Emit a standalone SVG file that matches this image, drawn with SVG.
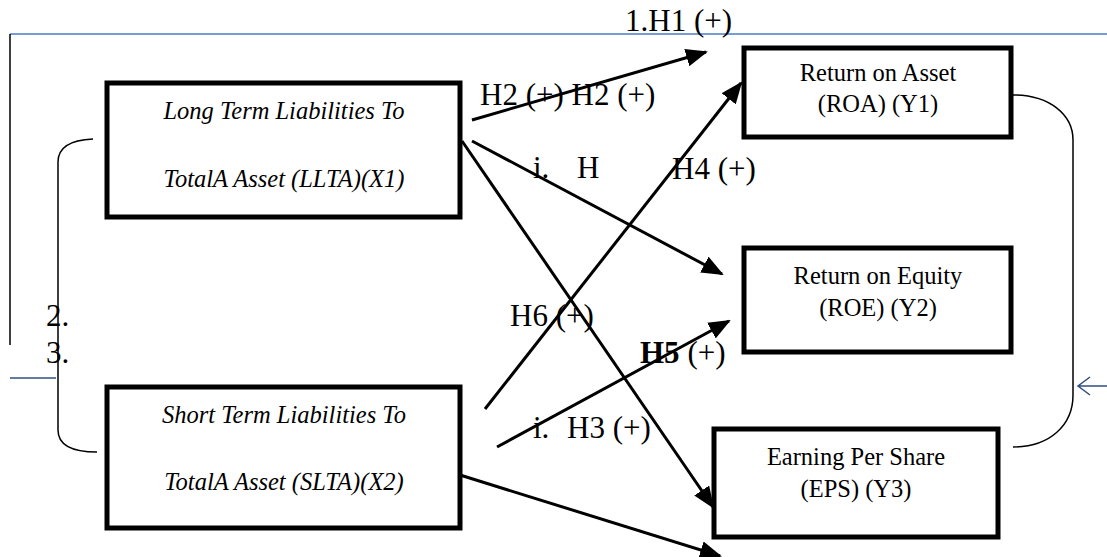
<svg xmlns="http://www.w3.org/2000/svg" width="1107" height="557" viewBox="0 0 1107 557">
<style>
.box{fill:#fff;stroke:#000;stroke-width:5}
.bt{font-family:"Liberation Serif","Times New Roman","DejaVu Serif",serif;font-style:italic;font-size:24.5px;text-anchor:middle}
.yt{font-family:"Liberation Serif","Times New Roman","DejaVu Serif",serif;font-size:24.5px;text-anchor:middle}
.lb{font-family:"Liberation Serif","Times New Roman","DejaVu Serif",serif;font-size:31px}
.ln{stroke:#000;stroke-width:3;fill:none}
.thin{stroke:#000;stroke-width:1.5;fill:none}
.blue{stroke:#4a7cc9;stroke-width:1.5;fill:none}
</style>
<defs>
<marker id="ah2" markerWidth="22" markerHeight="18" refX="20" refY="9" orient="auto" markerUnits="userSpaceOnUse">
<path d="M0,0 L22,9 L0,18 z" fill="#000"/>
</marker>
</defs>
<g id="frame">
<line class="blue" x1="10" y1="34" x2="1107" y2="34"/>
<line class="thin" x1="10" y1="34" x2="10" y2="345"/>
<line x1="10" y1="378" x2="56" y2="378" stroke="#2f4f7f" stroke-width="1.5"/>
<path class="thin" d="M93,139 C70,140 58,148 58,162 L58,430 C58,444 70,452 97,452"/>
<path class="thin" d="M1013,95 C1050,95 1073,115 1073,140 L1073,395 C1073,425 1050,447 1013,447"/>
<path d="M1107,386 L1078,386 M1090,377 L1078,386 L1090,395" stroke="#2f4f7f" stroke-width="1.5" fill="none"/>
</g>
<g id="connectors">
<line class="ln" x1="472" y1="120" x2="706" y2="52" marker-end="url(#ah2)"/>
<line class="ln" x1="472" y1="141" x2="722" y2="274" marker-end="url(#ah2)"/>
<line class="ln" x1="462" y1="141" x2="713" y2="507" marker-end="url(#ah2)"/>
<line class="ln" x1="485" y1="409" x2="741" y2="83" marker-end="url(#ah2)"/>
<line class="ln" x1="497" y1="447" x2="729" y2="321" marker-end="url(#ah2)"/>
<line class="ln" x1="460" y1="475" x2="720" y2="556" marker-end="url(#ah2)"/>
</g>
<g id="llta">
<rect class="box" x="107" y="83" width="353" height="134"/>
<text class="bt" x="284" y="119">Long Term Liabilities To</text>
<text class="bt" x="284" y="187">TotalA Asset (LLTA)(X1)</text>
</g>
<g id="slta">
<rect class="box" x="107" y="387" width="353" height="141"/>
<text class="bt" x="284" y="423">Short Term Liabilities To</text>
<text class="bt" x="284" y="490">TotalA Asset (SLTA)(X2)</text>
</g>
<g id="roa">
<rect class="box" x="744" y="48" width="267" height="89"/>
<text class="yt" x="878" y="81">Return on Asset</text>
<text class="yt" x="878" y="112">(ROA) (Y1)</text>
</g>
<g id="roe">
<rect class="box" x="744" y="248" width="267" height="104"/>
<text class="yt" x="878" y="284">Return on Equity</text>
<text class="yt" x="878" y="316">(ROE) (Y2)</text>
</g>
<g id="eps">
<rect class="box" x="714" y="429" width="284" height="108"/>
<text class="yt" x="856" y="465">Earning Per Share</text>
<text class="yt" x="856" y="497">(EPS) (Y3)</text>
</g>
<g id="labels">
<text class="lb" x="625" y="31">1.H1 (+)</text>
<text class="lb" x="480" y="105">H2 (+) H2 (+)</text>
<text class="lb" x="533" y="178">i.</text>
<text class="lb" x="577" y="178">H</text>
<text class="lb" x="672" y="179">H4 (+)</text>
<text class="lb" x="510" y="326">H6 (+)</text>
<text class="lb" x="640" y="363"><tspan font-weight="bold">H5</tspan> (+)</text>
<text class="lb" x="533" y="438">i.</text>
<text class="lb" x="567" y="438">H3 (+)</text>
<text class="lb" x="46" y="326">2.</text>
<text class="lb" x="46" y="363">3.</text>
</g>
</svg>
